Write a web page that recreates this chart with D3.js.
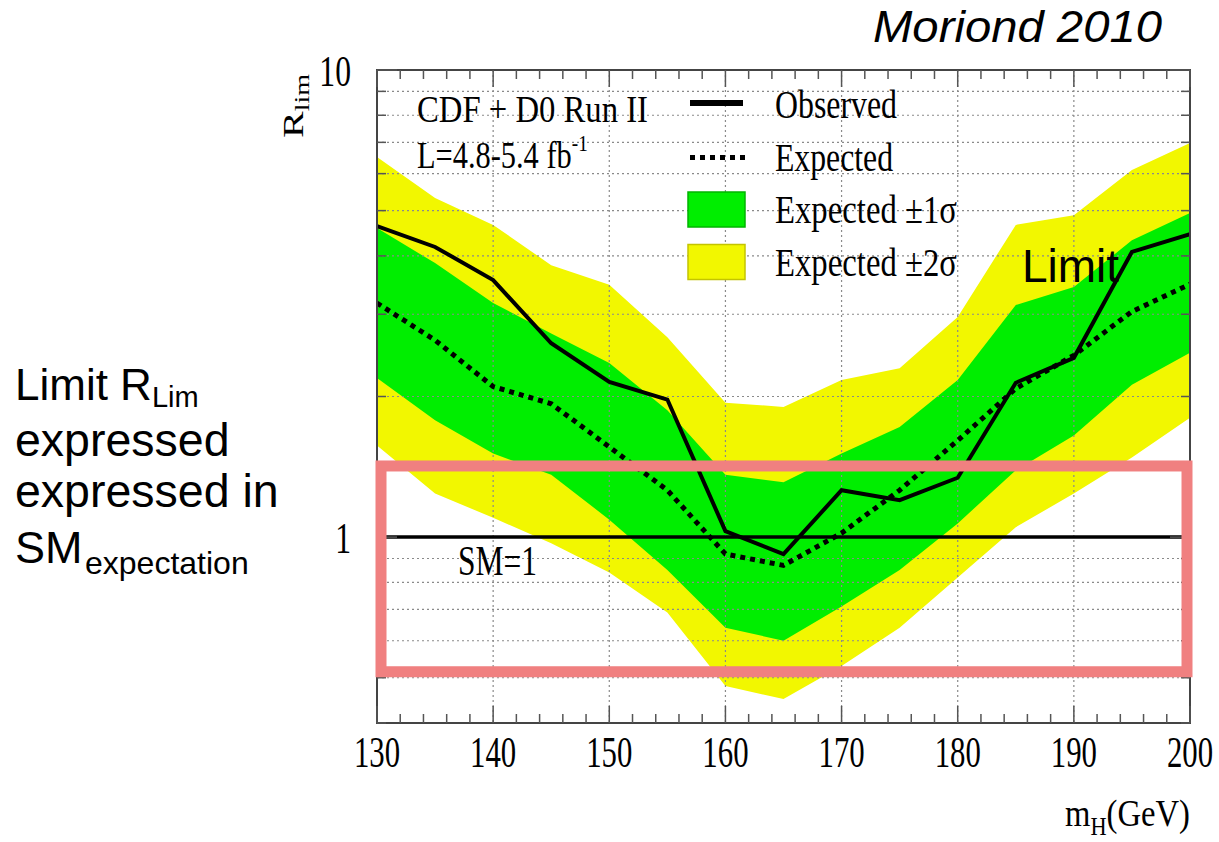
<!DOCTYPE html>
<html>
<head>
<meta charset="utf-8">
<script src="https://cdn.jsdelivr.net/npm/d3@7"></script>
<style>
  body { margin: 0; background: #fff; }
  text { fill: #000; }
</style>
</head>
<body>
<script>
// Higgs mass points (GeV)
const massPoints = [130, 135, 140, 145, 150, 155, 160, 165, 170, 175, 180, 185, 190, 195, 200];
// 95% CL limit ratio to SM
const observed = [4.63, 4.18, 3.55, 2.60, 2.15, 1.97, 1.03, 0.92, 1.26, 1.20, 1.34, 2.14, 2.42, 4.08, 4.45];
const expected = [3.17, 2.64, 2.10, 1.93, 1.56, 1.26, 0.92, 0.87, 1.02, 1.26, 1.61, 2.08, 2.45, 3.04, 3.48];
const sigma1Up = [4.59, 3.86, 3.17, 2.73, 2.36, 1.87, 1.36, 1.31, 1.51, 1.72, 2.17, 3.14, 3.43, 4.32, 4.94];
const sigma1Lo = [2.19, 1.78, 1.51, 1.36, 1.09, 0.85, 0.64, 0.60, 0.71, 0.85, 1.07, 1.39, 1.65, 2.12, 2.48];
const sigma2Up = [6.51, 5.32, 4.66, 3.82, 3.47, 2.68, 1.94, 1.90, 2.17, 2.30, 2.96, 4.66, 4.89, 6.11, 6.98];
const sigma2Lo = [1.57, 1.24, 1.10, 0.97, 0.84, 0.69, 0.48, 0.45, 0.53, 0.64, 0.82, 1.05, 1.24, 1.48, 1.80];

// axis ticks
const xMajorTicks = [130, 140, 150, 160, 170, 180, 190, 200];
const xMinorTicks = d3.range(130, 201, 2);
const yLogTicks = [0.4, 0.5, 0.6, 0.7, 0.8, 0.9, 1, 2, 3, 4, 5, 6, 7, 8, 9, 10];
const yTickLabels = [10, 1];
const legendLabels = ['Observed', 'Expected', 'Expected \u00b11\u03c3', 'Expected \u00b12\u03c3'];

// highlighted region (in R units)
const boxLo = 0.515, boxHi = 1.42;

const W = 1219, H = 842;
const plot = { left: 377, top: 70, right: 1190, bottom: 723 };
const GREEN = '#00ee00', YELLOW = '#f2f700';
const SERIF = '"Liberation Serif", "Times New Roman", serif';
const SANS = '"Liberation Sans", Arial, sans-serif';

const svg = d3.select('body').append('svg')
  .attr('width', W)
  .attr('height', H);

const x = d3.scaleLinear().domain([130, 200]).range([plot.left, plot.right]);
const y = d3.scaleLog().domain([0.4, 10]).range([plot.bottom, plot.top]);

svg.append('clipPath').attr('id', 'plotclip')
  .append('rect')
  .attr('x', plot.left).attr('y', plot.top)
  .attr('width', plot.right - plot.left).attr('height', plot.bottom - plot.top);

const g = svg.append('g').attr('clip-path', 'url(#plotclip)');

//bands
const band = (lo, hi) => d3.area()
  .x((d, i) => x(massPoints[i]))
  .y0((d, i) => y(lo[i]))
  .y1((d, i) => y(hi[i]));

g.append('path').datum(massPoints)
  .attr('d', band(sigma2Lo, sigma2Up))
  .attr('fill', YELLOW);
g.append('path').datum(massPoints)
  .attr('d', band(sigma1Lo, sigma1Up))
  .attr('fill', GREEN);

//dotted grid
g.selectAll('.vgrid')
  .data(xMajorTicks.slice(1, -1))
  .enter().append('line')
  .attr('x1', d => x(d)).attr('x2', d => x(d))
  .attr('y1', plot.top).attr('y2', plot.bottom)
  .attr('stroke', '#8a8a8a').attr('stroke-width', 1.2)
  .attr('stroke-dasharray', '2,3');
g.selectAll('.hgrid')
  .data(yLogTicks.filter(d => d !== 0.4 && d !== 1 && d !== 10))
  .enter().append('line')
  .attr('x1', plot.left).attr('x2', plot.right)
  .attr('y1', d => y(d)).attr('y2', d => y(d))
  .attr('stroke', '#8a8a8a').attr('stroke-width', 1.2)
  .attr('stroke-dasharray', '2,3');

//limit curves
const line = vals => d3.line()
  .x((d, i) => x(massPoints[i]))
  .y((d, i) => y(vals[i]));

g.append('path').datum(massPoints)
  .attr('d', line(expected))
  .attr('fill', 'none').attr('stroke', '#000')
  .attr('stroke-width', 5).attr('stroke-dasharray', '5,5');
g.append('path').datum(massPoints)
  .attr('d', line(observed))
  .attr('fill', 'none').attr('stroke', '#000')
  .attr('stroke-width', 4).attr('stroke-linejoin', 'miter');

// SM = 1 line
g.append('line')
  .attr('x1', x(130)).attr('x2', x(200))
  .attr('y1', y(1)).attr('y2', y(1))
  .attr('stroke', '#000').attr('stroke-width', 3.5);

//frame and ticks
svg.append('rect')
  .attr('x', plot.left).attr('y', plot.top)
  .attr('width', plot.right - plot.left).attr('height', plot.bottom - plot.top)
  .attr('fill', 'none').attr('stroke', '#444').attr('stroke-width', 2);

const ticks = svg.append('g').attr('stroke', '#555').attr('stroke-width', 1.5);
xMinorTicks.forEach(v => {
  const len = xMajorTicks.includes(v) ? 17 : 9;
  ticks.append('line').attr('x1', x(v)).attr('x2', x(v))
    .attr('y1', plot.bottom).attr('y2', plot.bottom - len);
  ticks.append('line').attr('x1', x(v)).attr('x2', x(v))
    .attr('y1', plot.top).attr('y2', plot.top + len);
});
yLogTicks.forEach(v => {
  const len = (v === 1 || v === 10) ? 20 : 9;
  ticks.append('line').attr('x1', plot.left).attr('x2', plot.left + len)
    .attr('y1', y(v)).attr('y2', y(v));
  ticks.append('line').attr('x1', plot.right).attr('x2', plot.right - len)
    .attr('y1', y(v)).attr('y2', y(v));
});

// highlight box
svg.append('rect')
  .attr('x', x(130) + 4).attr('y', y(boxHi))
  .attr('width', x(200) - 3 - (x(130) + 4))
  .attr('height', y(boxLo) - y(boxHi))
  .attr('fill', 'none').attr('stroke', '#f08080').attr('stroke-width', 11);

//squished serif text (the original plot was compressed horizontally)
const squish = (px, py, str, size, sx, anchor) => svg.append('text')
  .attr('transform', `translate(${px},${py}) scale(${sx},1)`)
  .attr('font-family', SERIF).attr('font-size', size)
  .attr('text-anchor', anchor)
  .text(str);

xMajorTicks.forEach(v => squish(x(v), 767, String(v), 44, 0.7, 'middle'));
yTickLabels.forEach(v => squish(351, y(v) + 16, String(v), 44, 0.72, 'end'));

// x title
const xt = svg.append('text')
  .attr('transform', 'translate(1190,826) scale(0.86,1)')
  .attr('font-family', SERIF).attr('font-size', 38).attr('text-anchor', 'end');
xt.append('tspan').text('m');
xt.append('tspan').attr('font-size', 26).attr('dy', 9).text('H');
xt.append('tspan').attr('dy', -9).text('(GeV)');

// y title
const yt = svg.append('text')
  .attr('transform', 'translate(303,138) scale(0.72,1) rotate(-90)')
  .attr('font-family', SERIF).attr('font-size', 40);
yt.append('tspan').text('R');
yt.append('tspan').attr('font-size', 28).attr('dy', 8).text('lim');

const fitText = (px, py, str, size, w, family) => svg.append('text')
  .attr('x', px).attr('y', py)
  .attr('font-family', family || SERIF).attr('font-size', size)
  .attr('textLength', w).attr('lengthAdjust', 'spacingAndGlyphs')
  .text(str);

fitText(417, 122, 'CDF + D0 Run II', 38, 231);
const lumi = svg.append('text')
  .attr('transform', 'translate(417,168) scale(0.8,1)')
  .attr('font-family', SERIF).attr('font-size', 38);
lumi.append('tspan').text('L=4.8-5.4 fb');
lumi.append('tspan').attr('font-size', 24).attr('dy', -17).text('-1');
fitText(458, 575, 'SM=1', 42, 79);

//legend
const legendWidths = [122, 118, 182, 182];
legendLabels.forEach((lab, i) => {
  const cy = 104 + 52.5 * i;
  fitText(775, cy + 14, lab, 40, legendWidths[i]);
  if (i === 0) {
    svg.append('line').attr('x1', 690).attr('x2', 743)
      .attr('y1', cy - 1).attr('y2', cy - 1)
      .attr('stroke', '#000').attr('stroke-width', 6);
  } else if (i === 1) {
    svg.append('line').attr('x1', 690).attr('x2', 745)
      .attr('y1', cy + 1).attr('y2', cy + 1)
      .attr('stroke', '#000').attr('stroke-width', 5)
      .attr('stroke-dasharray', '5,5');
  } else {
    svg.append('rect').attr('x', 688).attr('y', cy - 17)
      .attr('width', 57).attr('height', 35)
      .attr('fill', i === 2 ? GREEN : YELLOW)
      .attr('stroke', i === 2 ? '#00b400' : '#c4c400').attr('stroke-width', 1.5);
  }
});

//slide annotations
svg.append('text')
  .attr('x', 873).attr('y', 42)
  .attr('font-family', SANS).attr('font-style', 'italic').attr('font-size', 45)
  .attr('textLength', 289).attr('lengthAdjust', 'spacingAndGlyphs')
  .text('Moriond 2010');

svg.append('text')
  .attr('x', 1022).attr('y', 282)
  .attr('font-family', SANS).attr('font-size', 46)
  .text('Limit');

const note = svg.append('g').attr('font-family', SANS);
const l1 = note.append('text').attr('x', 15).attr('y', 400).attr('font-size', 44);
l1.append('tspan').text('Limit R');
l1.append('tspan').attr('dy', 7).attr('font-size', 29).text('Lim');
note.append('text').attr('x', 15).attr('y', 456).attr('font-size', 46.5).text('expressed');
note.append('text').attr('x', 15).attr('y', 507).attr('font-size', 46.5).text('expressed in');
const l4 = note.append('text').attr('y', 563);
l4.append('tspan').attr('x', 15).attr('font-size', 45).text('SM');
l4.append('tspan').attr('x', 85).attr('dy', 11).attr('font-size', 32).text('expectation');
</script>
</body>
</html>
